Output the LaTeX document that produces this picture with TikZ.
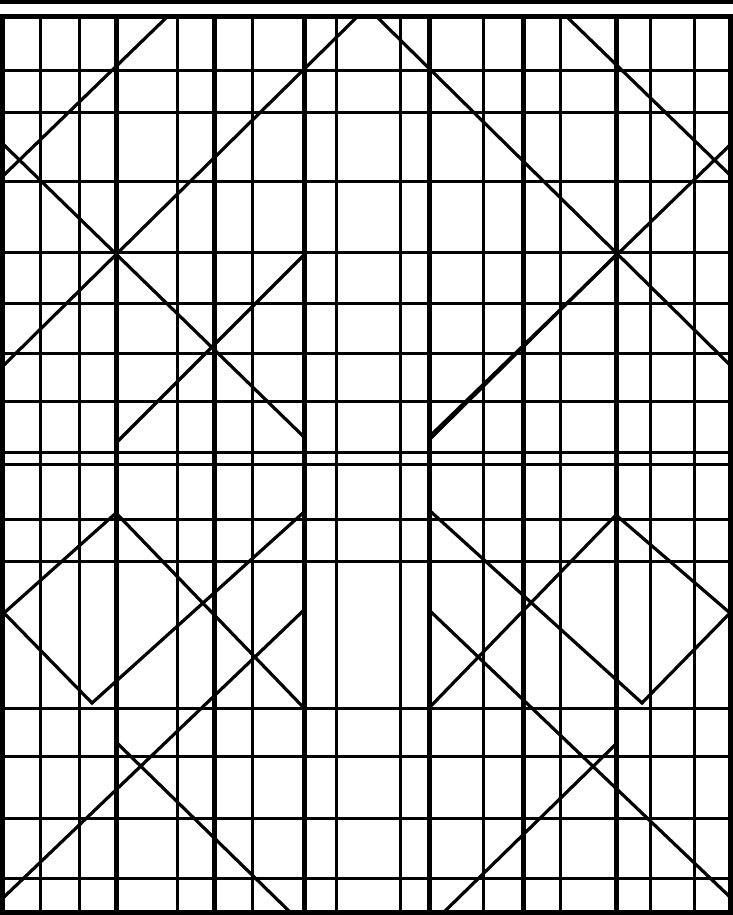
\documentclass[tikz,border=0pt]{standalone}
\usepackage{tikz}

\begin{document}
\begin{tikzpicture}[
x=1pt,y=-1pt,
slat/.style={line width=3pt},
post/.style={line width=5pt},
border/.style={line width=5pt},
diag/.style={line width=3.2pt, line join=miter}
]
\useasboundingbox (0,0) rectangle (733,915);
\draw[line width=4.2pt] (0,2) -- (733,2);

\foreach \x in {40,79,177,252,336,400,483,560,650,694}
  \draw[slat] (\x,17) -- (\x,911);
\foreach \y in {71,113,181,252,303,353,401,452,464,519,561,708,756,818,878}
  \draw[slat] (2.5,\y) -- (730.5,\y);
\foreach \x in {116,214,304,429,523,616}
  \draw[post] (\x,17) -- (\x,911);
\draw[border] (2.5,17) rectangle (730.5,912);

% left half
\draw[diag] (167,17) -- (4,175);
\draw[diag] (4,145) -- (304,437);
\draw[diag] (357,17) -- (4,365);
\draw[diag] (304,255) -- (116,443);
\draw[diag] (304,512) -- (92,703) -- (4,613) -- (116,513) -- (304,708);
\draw[diag] (304,610) -- (4,897);
\draw[diag] (116,742) -- (290,912);

% right half
\draw[diag] (567,17) -- (730,175);
\draw[diag] (730,145) -- (429,437);
\draw[diag] (377,17) -- (730,365);
\draw[diag] (429,440) -- (616,255);
\draw[diag] (429,510) -- (642,703) -- (730,613) -- (616,515) -- (429,708);
\draw[diag] (429,610) -- (730,897);
\draw[diag] (616,744) -- (444,912);
\end{tikzpicture}
\end{document}
